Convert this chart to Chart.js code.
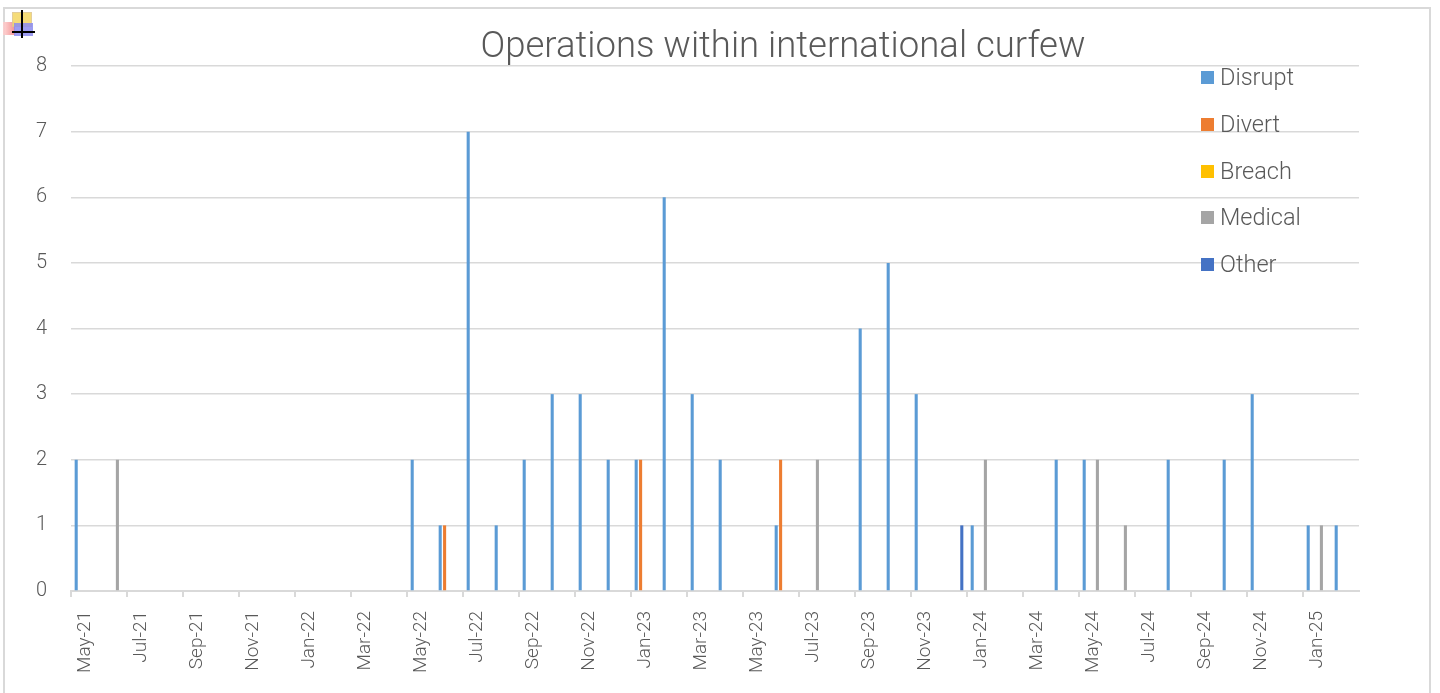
<!DOCTYPE html>
<html>
<head>
<meta charset="utf-8">
<script src="https://cdn.jsdelivr.net/npm/chart.js@4.4.1/dist/chart.umd.min.js"></script>
<style>
  html, body { margin:0; padding:0; background:#fff; }
  body { width:1440px; height:693px; position:relative; overflow:hidden; font-family: Roboto, "Noto Sans", sans-serif; }
  #frame { position:absolute; left:3px; top:7px; width:1428px; height:700px; border:2px solid #d9d9d9; box-sizing:border-box; }
  #wrap { position:absolute; left:0; top:0; width:1440px; height:693px; }
  #title { position:absolute; left:783px; top:27px; transform:translateX(-50%); white-space:nowrap;
           font-size:36.5px; font-weight:300; color:#595959; line-height:1; }
  #legend { position:absolute; left:1201px; top:0; }
  .li { position:absolute; left:0; white-space:nowrap; font-size:23.5px; font-weight:300; color:#595959; line-height:1; }
  .sw { position:absolute; left:0; width:13px; height:13px; }
  .lt { position:absolute; left:19px; }
  .ic { position:absolute; }
</style>
</head>
<body>
<div id="frame"></div>
<div class="ic" style="left:3px;top:22px;width:12px;height:13px;background:linear-gradient(90deg,#ffd0d0,#f08080);opacity:0.85"></div>
<div class="ic" style="left:12px;top:12px;width:18px;height:13px;background:#f5d96b;border:1px solid #e0c890;opacity:0.9"></div>
<div class="ic" style="left:14px;top:23px;width:19px;height:13px;background:#8c8cf0;opacity:0.85"></div>
<div class="ic" style="left:21px;top:10px;width:2px;height:28px;background:#000"></div>
<div class="ic" style="left:12px;top:31px;width:23px;height:2px;background:#000"></div>
<div id="wrap"><canvas id="c" width="1440" height="693"></canvas></div>
<div id="title">Operations within international curfew</div>
<div id="legend"></div>
<script>
const months = ["May-21","Jun-21","Jul-21","Aug-21","Sep-21","Oct-21","Nov-21","Dec-21",
  "Jan-22","Feb-22","Mar-22","Apr-22","May-22","Jun-22","Jul-22","Aug-22","Sep-22","Oct-22","Nov-22","Dec-22",
  "Jan-23","Feb-23","Mar-23","Apr-23","May-23","Jun-23","Jul-23","Aug-23","Sep-23","Oct-23","Nov-23","Dec-23",
  "Jan-24","Feb-24","Mar-24","Apr-24","May-24","Jun-24","Jul-24","Aug-24","Sep-24","Oct-24","Nov-24","Dec-24",
  "Jan-25","Feb-25"];
const disrupt  = [2,0,0,0,0,0,0,0, 0,0,0,0,2,1,7,1,2,3,3,2, 2,6,3,2,0,1,0,0,4,5,3,0, 1,0,0,2,2,0,0,2,0,2,3,0, 1,1];
const divert   = [0,0,0,0,0,0,0,0, 0,0,0,0,0,1,0,0,0,0,0,0, 2,0,0,0,0,2,0,0,0,0,0,0, 0,0,0,0,0,0,0,0,0,0,0,0, 0,0];
const breach   = [0,0,0,0,0,0,0,0, 0,0,0,0,0,0,0,0,0,0,0,0, 0,0,0,0,0,0,0,0,0,0,0,0, 0,0,0,0,0,0,0,0,0,0,0,0, 0,0];
const medical  = [0,2,0,0,0,0,0,0, 0,0,0,0,0,0,0,0,0,0,0,0, 0,0,0,0,0,0,2,0,0,0,0,0, 2,0,0,0,2,1,0,0,0,0,0,0, 1,0];
const other    = [0,0,0,0,0,0,0,0, 0,0,0,0,0,0,0,0,0,0,0,0, 0,0,0,0,0,0,0,0,0,0,0,1, 0,0,0,0,0,0,0,0,0,0,0,0, 0,0];
const yTicks   = [0,1,2,3,4,5,6,7,8];
const seriesNames  = ["Disrupt","Divert","Breach","Medical","Other"];
const seriesColors = ["#5B9BD5","#ED7D31","#FFC000","#A5A5A5","#4472C4"];
const seriesData   = [disrupt, divert, breach, medical, other];

const grid = '#d9d9d9';

const chart = new Chart(document.getElementById('c'), {
  type: 'bar',
  data: {
    labels: months,
    datasets: seriesNames.map((n, i) => ({
      label: n,
      data: seriesData[i],
      backgroundColor: seriesColors[i],
      borderWidth: 0,
      categoryPercentage: 0.786,
      barPercentage: 0.7
    }))
  },
  options: {
    responsive: false,
    animation: false,
    layout: { padding: { left: 0, right: 81, top: 66, bottom: 0 } },
    plugins: { legend: { display: false }, title: { display: false }, tooltip: { enabled: false } },
    scales: {
      x: {
        offset: true,
        grid: {
          offset: true,
          drawOnChartArea: false,
          drawTicks: true,
          tickLength: 6,
          tickColor: ctx => (ctx.index % 2 === 0 ? grid : 'rgba(0,0,0,0)'),
          lineWidth: 2
        },
        border: { display: true, color: grid, width: 2 },
        ticks: {
          autoSkip: false,
          minRotation: 90,
          maxRotation: 90,
          padding: 14,
          color: '#595959',
          font: { family: 'Roboto', size: 19, weight: '300' },
          callback: (v, i) => (i % 2 === 0 ? months[i] : '')
        },
        afterFit: s => { s.height = 102; }
      },
      y: {
        min: 0, max: 8,
        afterBuildTicks: s => { s.ticks = yTicks.map(v => ({ value: v })); },
        grid: { color: grid, lineWidth: 1.5, drawTicks: false },
        border: { display: false },
        ticks: { padding: 24, color: '#595959', font: { family: 'Roboto', size: 20, weight: '300' } },
        afterFit: s => { s.width = 71; }
      }
    }
  }
});

const lg = document.getElementById('legend');
const centers = [78, 125, 172, 218, 265];
seriesNames.forEach((n, i) => {
  const d = document.createElement('div');
  d.className = 'li';
  d.style.top = (centers[i] - 12) + 'px';
  d.innerHTML = '<span class="sw" style="top:5px;background:' + seriesColors[i] + '"></span><span class="lt">' + n + '</span>';
  lg.appendChild(d);
});
</script>
</body>
</html>
